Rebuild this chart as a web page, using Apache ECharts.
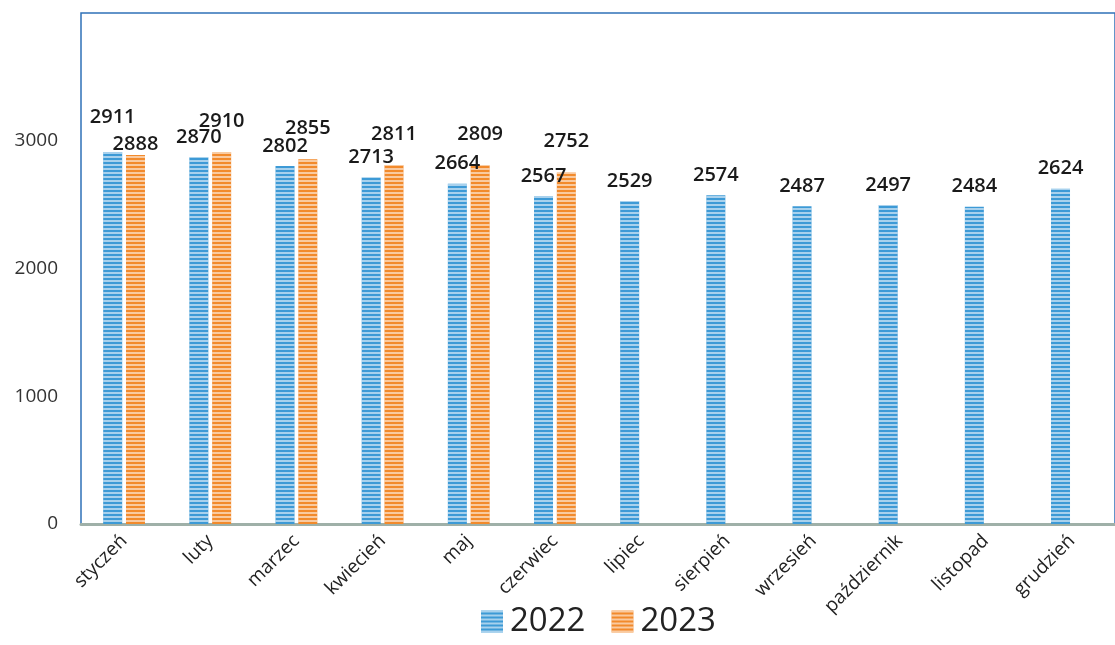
<!DOCTYPE html>
<html><head><meta charset="utf-8">
<script src="https://cdn.jsdelivr.net/npm/echarts@6/dist/echarts.min.js"></script>
<style>html,body{margin:0;padding:0;background:#fff}#c{width:1115px;height:645px}</style>
</head><body><div id="c"></div>
<script>
const categories = ['styczeń','luty','marzec','kwiecień','maj','czerwiec','lipiec','sierpień','wrzesień','październik','listopad','grudzień'];
const values2022 = [2911,2870,2802,2713,2664,2567,2529,2574,2487,2497,2484,2624];
const values2023 = [2888,2910,2855,2811,2809,2752,null,null,null,null,null,null];
const seriesNames = ['2022','2023'];

const stripe = {symbol:'rect', symbolSize:1, dashArrayX:[1,0], dashArrayY:[2,2], rotation:0, color:'rgba(255,255,255,0.55)'};
const labelFont = {fontFamily:'Open Sans', fontWeight:600, fontSize:20, color:'#1a1a1a'};

const d2022 = values2022.map((v,i)=> i===0 ? {value:v, label:{distance:25}} : v);
const d2023 = values2023.map((v,i)=> i===0 ? {value:v, label:{distance:1}} : v);

const chart = echarts.init(document.getElementById('c'));
chart.setOption({
  animation:false,
  grid:{left:81, right:-9, top:13, bottom:121, show:true, borderColor:'#2f72b8', borderWidth:1.5, containLabel:false},
  legend:{bottom:2, left:476, itemWidth:22, itemHeight:22, itemGap:26, icon:'rect',
    textStyle:{fontFamily:'Open Sans', fontSize:33, color:'#222', fontWeight:400, padding:[0,0,0,2]},
    data:seriesNames},
  xAxis:{type:'category', data:categories,
    axisLine:{lineStyle:{color:'#9fb0a8', width:3}}, axisTick:{show:false},
    axisLabel:{rotate:45, margin:14, fontFamily:'Open Sans', fontSize:19, color:'#222', interval:0}},
  yAxis:{type:'value', min:0, max:4000, interval:1000,
    axisLine:{show:false}, axisTick:{show:false}, splitLine:{show:false},
    axisLabel:{margin:23, fontFamily:'Open Sans', fontSize:19, color:'#333', showMaxLabel:false,
      formatter:v=> v===4000 ? '' : String(v)}},
  series:[
    {name:seriesNames[0], type:'bar', data:d2022, barWidth:19, barGap:'20%',
     itemStyle:{color:'#3d9ad6', decal:stripe},
     label:{show:true, position:'top', distance:10, ...labelFont}},
    {name:seriesNames[1], type:'bar', data:d2023, barWidth:19,
     itemStyle:{color:'#f28a2c', decal:stripe},
     label:{show:true, position:'top', distance:21, ...labelFont}}
  ]
});
</script></body></html>
